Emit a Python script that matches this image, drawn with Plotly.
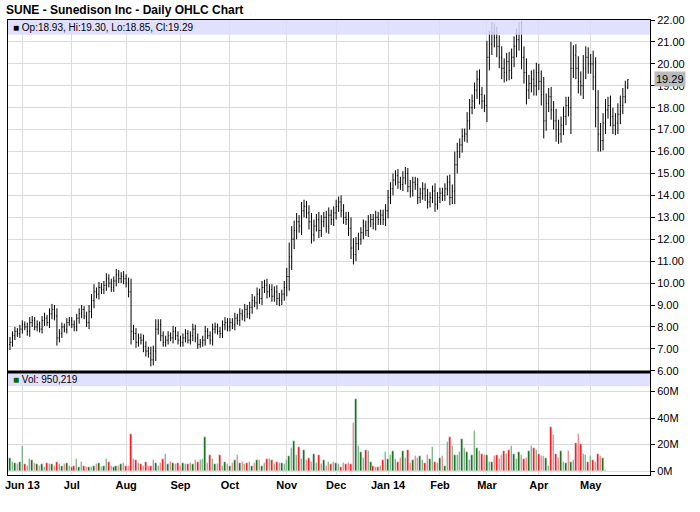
import pandas as pd
import plotly.graph_objects as go
from pandas.tseries.offsets import CustomBusinessDay

holidays = ["2013-05-27","2013-07-04","2013-09-02","2013-11-28","2013-12-25",
            "2014-01-01","2014-01-20","2014-02-17","2014-04-18"]

closes = [7.3,7.6,7.8,7.7,7.9,
 8.1,8.0,7.8,8.2,8.3,8.0,8.1,7.9,8.3,8.4,8.2,8.6,8.8,8.5,7.5,7.7,8.0,7.9,8.2,8.3,
 8.1,8.0,8.4,8.6,8.8,8.5,8.2,8.7,9.2,9.6,9.5,9.8,9.7,9.9,10.2,10.0,9.8,10.1,10.4,10.2,10.3,10.2,
 10.0,9.6,7.8,7.7,7.3,7.5,7.4,7.1,6.9,6.8,6.5,6.9,7.9,8.1,7.6,7.3,7.4,7.6,7.5,7.8,7.6,7.4,
 7.3,7.5,7.7,7.4,7.6,7.9,7.5,7.2,7.3,7.4,7.8,7.6,7.4,7.9,8.0,7.8,7.7,8.1,8.2,8.0,
 8.2,8.1,8.4,8.3,8.6,8.5,8.8,8.6,8.9,9.2,9.1,9.5,9.3,9.8,9.9,9.6,9.7,9.4,9.6,9.3,9.2,9.5,9.8,
 10.3,11.2,12.0,12.4,12.8,12.6,13.3,13.5,13.2,12.8,12.2,12.6,12.9,12.4,12.8,13.0,12.6,13.1,12.9,13.2,
 13.5,13.7,13.3,13.0,12.9,12.5,11.6,11.3,11.8,12.0,12.3,12.6,12.4,12.8,12.9,12.7,13.0,12.9,13.1,12.9,13.3,
 13.9,14.3,14.7,14.9,14.6,14.5,14.8,15.0,14.4,14.2,14.6,14.5,13.9,14.1,14.3,14.0,13.7,13.9,14.2,13.6,13.9,
 14.1,14.0,14.3,14.6,13.9,14.2,15.4,16.0,16.3,16.7,16.8,17.4,18.0,18.3,18.8,19.3,18.6,18.3,18.1,
 20.3,20.9,21.4,21.2,20.8,20.3,19.8,19.6,20.1,19.7,20.3,20.8,21.1,21.4,20.3,19.6,18.8,19.1,19.3,19.0,19.6,
 19.2,18.6,17.4,18.2,18.5,17.9,17.4,17.0,16.8,17.2,17.6,18.1,18.0,19.8,20.4,19.8,19.2,19.0,19.8,20.3,20.0,
 20.0,19.4,18.0,16.8,16.5,17.3,17.9,18.1,17.6,17.2,17.3,17.7,18.1,18.5,18.93,19.29]

ranges = [0.5,0.4,0.4,0.3,0.4,
 0.4,0.3,0.4,0.5,0.4,0.3,0.4,0.3,0.4,0.5,0.3,0.5,0.5,0.4,0.7,0.4,0.4,0.3,0.4,0.3,
 0.3,0.4,0.4,0.5,0.4,0.3,0.4,0.6,0.6,0.7,0.4,0.5,0.4,0.4,0.5,0.4,0.4,0.4,0.5,0.4,0.4,0.5,
 0.4,0.5,1.2,0.6,0.5,0.4,0.4,0.5,0.5,0.4,0.6,0.5,0.9,0.5,0.5,0.4,0.4,0.4,0.3,0.5,0.4,0.4,
 0.4,0.4,0.4,0.3,0.4,0.5,0.4,0.4,0.3,0.4,0.5,0.3,0.4,0.5,0.4,0.3,0.4,0.4,0.5,0.4,
 0.4,0.4,0.5,0.4,0.5,0.4,0.5,0.4,0.5,0.6,0.4,0.6,0.5,0.6,0.5,0.6,0.5,0.5,0.5,0.6,0.5,0.4,0.6,
 0.8,1.3,1.2,0.9,0.8,0.6,0.8,0.6,0.5,0.7,0.8,0.6,0.5,0.7,0.6,0.5,0.6,0.7,0.5,0.6,
 0.6,0.5,0.6,0.6,0.5,0.7,1.0,0.9,0.6,0.6,0.5,0.6,0.5,0.6,0.5,0.5,0.6,0.5,0.5,0.5,0.6,
 0.7,0.6,0.6,0.5,0.6,0.5,0.6,0.6,0.5,0.6,0.5,0.5,0.6,0.5,0.6,0.5,0.6,0.5,0.5,0.7,0.5,
 0.5,0.5,0.5,0.6,0.7,0.6,1.2,0.8,0.6,0.7,0.5,0.8,0.8,0.6,0.7,0.8,0.9,0.7,0.6,
 1.5,1.2,1.0,0.9,1.0,1.0,1.0,0.9,0.8,0.9,0.8,0.9,1.0,1.0,1.1,1.0,1.3,0.8,0.8,0.9,0.9,
 0.8,1.0,1.6,0.9,0.8,0.9,0.8,1.1,0.9,0.8,0.9,0.8,0.8,2.4,0.9,1.0,1.1,0.9,1.2,1.0,0.9,
 0.9,1.2,1.8,1.6,1.0,0.9,1.0,0.8,0.9,0.8,0.9,1.0,0.9,0.8,0.6,0.45]

volumes = [10,7,6,5,7,
 19,5,4,9,8,6,5,4,5,3,6,5,5,4,7,5,4,5,6,4,
 3,4,9,3,7,4,3,3,3,4,5,6,3,4,9,7,4,3,4,4,5,6,
 4,4,28,9,8,6,5,4,7,4,4,8,6,4,6,9,13,5,7,6,5,6,
 4,6,5,5,6,5,8,7,8,9,26,6,12,9,5,5,12,4,7,5,
 4,6,8,12,6,7,5,6,7,4,6,8,8,4,6,9,9,8,5,7,6,6,5,
 8,11,17,23,12,18,9,16,8,10,7,13,6,12,5,8,4,7,5,7,
 6,5,3,6,5,6,5,36,54,19,14,10,16,15,7,4,3,3,4,8,14,
 9,12,15,9,7,10,15,10,16,6,8,11,10,11,8,6,12,9,18,7,6,
 10,11,4,22,26,19,12,12,14,24,17,14,8,12,30,17,15,13,12,12,7,
 7,11,12,9,12,15,13,16,19,13,9,14,12,9,10,15,19,17,16,13,11,
 11,10,4,33,27,13,10,15,7,6,15,7,8,21,28,20,13,12,7,11,
 8,7,13,11,10,1]

month_labels = ["Jun 13","Jul","Aug","Sep","Oct","Nov","Dec","Jan 14","Feb","Mar","Apr","May"]
price_ticks = [6,7,8,9,10,11,12,13,14,15,16,17,18,19,20,21,22]
vol_ticks = [0,20,40,60]

n = len(closes)
cbd = CustomBusinessDay(holidays=holidays)
dates = pd.date_range("2013-05-24", periods=n, freq=cbd)
idx = list(range(n))
opens = [closes[0] - 0.1] + closes[:-1]
opens[-1] = 18.93
highs = [max(o, c) + r / 2 for o, c, r in zip(opens, closes, ranges)]
lows = [min(o, c) - r / 2 for o, c, r in zip(opens, closes, ranges)]
highs[-1], lows[-1] = 19.30, 18.85
vcols = ["#006600"] + ["#006600" if closes[i] >= closes[i-1] else "#ff0000" for i in range(1, n)]

month_idx = []
prev = None
for i, d in enumerate(dates):
    if d.month != prev and i > 0:
        month_idx.append(i)
    prev = d.month
month_idx = month_idx[:len(month_labels)]

fig = go.Figure()
fig.add_trace(go.Ohlc(x=idx, open=opens, high=highs, low=lows, close=closes,
                      increasing_line_color="black", decreasing_line_color="black",
                      line_width=1, tickwidth=0.3, xaxis="x", yaxis="y", showlegend=False,
                      hoverinfo="skip"))
fig.add_trace(go.Bar(x=idx, y=volumes, marker_color=vcols, width=0.6,
                     xaxis="x2", yaxis="y2", showlegend=False))

grid = "#dcdcdc"
fnt = dict(family="Arial, Liberation Sans", size=11, color="black")
common_x = dict(range=[-0.8, 259], tickvals=month_idx, showgrid=True, gridcolor=grid,
                zeroline=False, showline=True, linecolor="black", mirror=True, linewidth=1,
                rangeslider=dict(visible=False), ticks="", automargin=False)
fig.update_layout(
    width=700, height=512, margin=dict(l=8, r=50, t=20, b=37, autoexpand=False),
    plot_bgcolor="white", paper_bgcolor="white", font=fnt, bargap=0,
    xaxis=dict(**common_x, anchor="y", showticklabels=False, matches="x2"),
    xaxis2=dict(**common_x, anchor="y2", ticktext=["<b>%s</b>" % m for m in month_labels],
                showticklabels=True, tickfont=dict(size=11)),
    yaxis=dict(domain=[0.229, 1], range=[6, 22], side="right", tickvals=price_ticks,
               tickformat=".2f", showgrid=True, gridcolor=grid, zeroline=False,
               showline=True, linecolor="black", mirror=True, ticks="outside",
               ticklen=4, tickcolor="black", tickfont=dict(size=11), automargin=False),
    yaxis2=dict(domain=[0, 0.224], range=[-3, 74], side="right", tickvals=vol_ticks,
                ticktext=["%dM" % v for v in vol_ticks], showgrid=True, gridcolor=grid,
                zeroline=False, showline=True, linecolor="black", mirror=True,
                ticks="outside", ticklen=4, tickcolor="black", tickfont=dict(size=11),
                automargin=False),
)
fig.add_shape(type="rect", xref="x domain", yref="y domain", x0=0, x1=1, y0=0.958, y1=1,
              fillcolor="rgba(220,220,255,0.85)", line_width=0, layer="above")
fig.add_shape(type="rect", xref="x2 domain", yref="y2 domain", x0=0, x1=1, y0=0.87, y1=1,
              fillcolor="rgba(220,220,255,0.85)", line_width=0, layer="above")
fig.add_shape(type="line", xref="paper", yref="paper", x0=0, x1=1, y0=0.2265, y1=0.2265,
              line=dict(color="black", width=3))
fig.add_annotation(x=0.005, y=0.979, xref="paper", yref="y domain", yanchor="middle",
                   xanchor="left", showarrow=False,
                   text="<span style='color:black'>■</span> Op:%.2f, Hi:%.2f, Lo:%.2f, Cl:%.2f" % (opens[-1], highs[-1], lows[-1], closes[-1]),
                   font=dict(size=10))
fig.add_annotation(x=0.005, y=0.935, xref="paper", yref="y2 domain", yanchor="middle",
                   xanchor="left", showarrow=False,
                   text="<span style='color:#006600'>■</span> Vol: 950,219", font=dict(size=10))
fig.add_annotation(x=1, y=closes[-1], xref="paper", yref="y", xanchor="left", showarrow=False,
                   xshift=4, text="%.2f" % closes[-1], bgcolor="#bbbbbb", font=dict(size=11),
                   borderpad=1)
fig.add_annotation(x=0, y=1, xref="paper", yref="paper", yshift=10, xanchor="left",
                   yanchor="middle", showarrow=False, xshift=-4,
                   text="<b>SUNE - Sunedison Inc - Daily OHLC Chart</b>", font=dict(size=12))
fig.write_html("out.html", config={"displayModeBar": False},
               post_script="document.body.style.margin='0';")
